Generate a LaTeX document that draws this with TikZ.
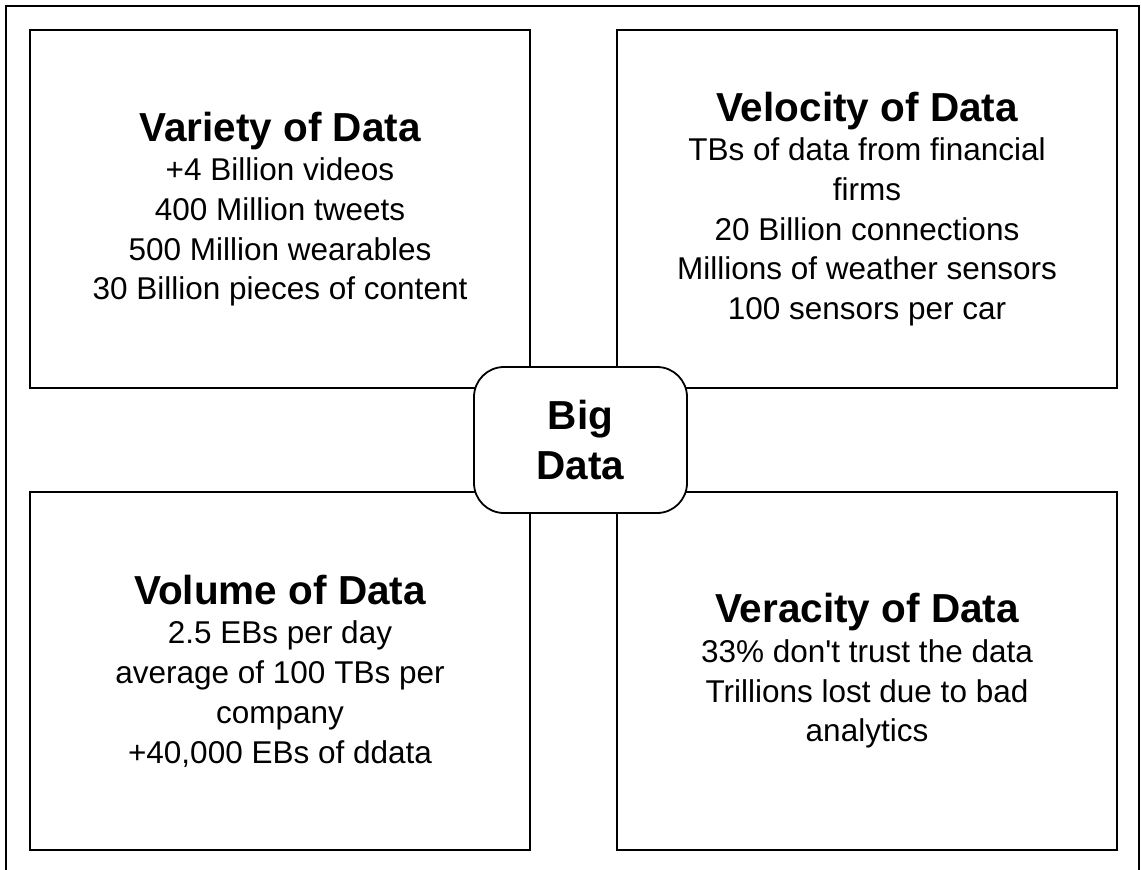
\documentclass[tikz,border=0pt]{standalone}
\usepackage{fontspec}
\setmainfont{Liberation Sans}
\newcommand{\bodysize}{\fontsize{31.5}{39.7}\selectfont}
\newcommand{\headsize}{\fontsize{40.5}{39.7}\selectfont\bfseries}
\begin{document}
\begin{tikzpicture}[x=1pt,y=-1pt,
    quadbox/.style={draw,line width=1.8pt,minimum width=500pt,minimum height=358pt,
      inner sep=0pt,align=center,font=\bodysize},
    hubbox/.style={draw,fill=white,line width=1.8pt,rounded corners=30pt,
      minimum width=213pt,minimum height=146pt,inner sep=0pt,align=center,
      font=\fontsize{40.5}{50}\selectfont\bfseries}]
  \useasboundingbox (0,0) rectangle (1141,870);
  % open frame round the picture
  \draw[line width=2.8pt] (6,872) -- (6,6) -- (1139,6) -- (1139,872);
  % the four V's
  \node[quadbox] (variety) at (280,209)
    {{\headsize Variety of Data}\\+4 Billion videos\\400 Million tweets\\
     500 Million wearables\\30 Billion pieces of content};
  \node[quadbox] (velocity) at (867,209)
    {{\headsize Velocity of Data}\\TBs of data from financial\\firms\\
     20 Billion connections\\Millions of weather sensors\\100 sensors per car};
  \node[quadbox] (volume) at (280,671)
    {{\headsize Volume of Data}\\2.5 EBs per day\\average of 100 TBs per\\
     company\\+40,000 EBs of ddata};
  \node[quadbox] (veracity) at (867,671)
    {{\headsize Veracity of Data}\\33\% don\textquotesingle t trust the data\\
     Trillions lost due to bad\\analytics};
  % hub on top
  \node[hubbox] (bigdata) at (580.5,440) {Big\\Data};
\end{tikzpicture}
\end{document}
